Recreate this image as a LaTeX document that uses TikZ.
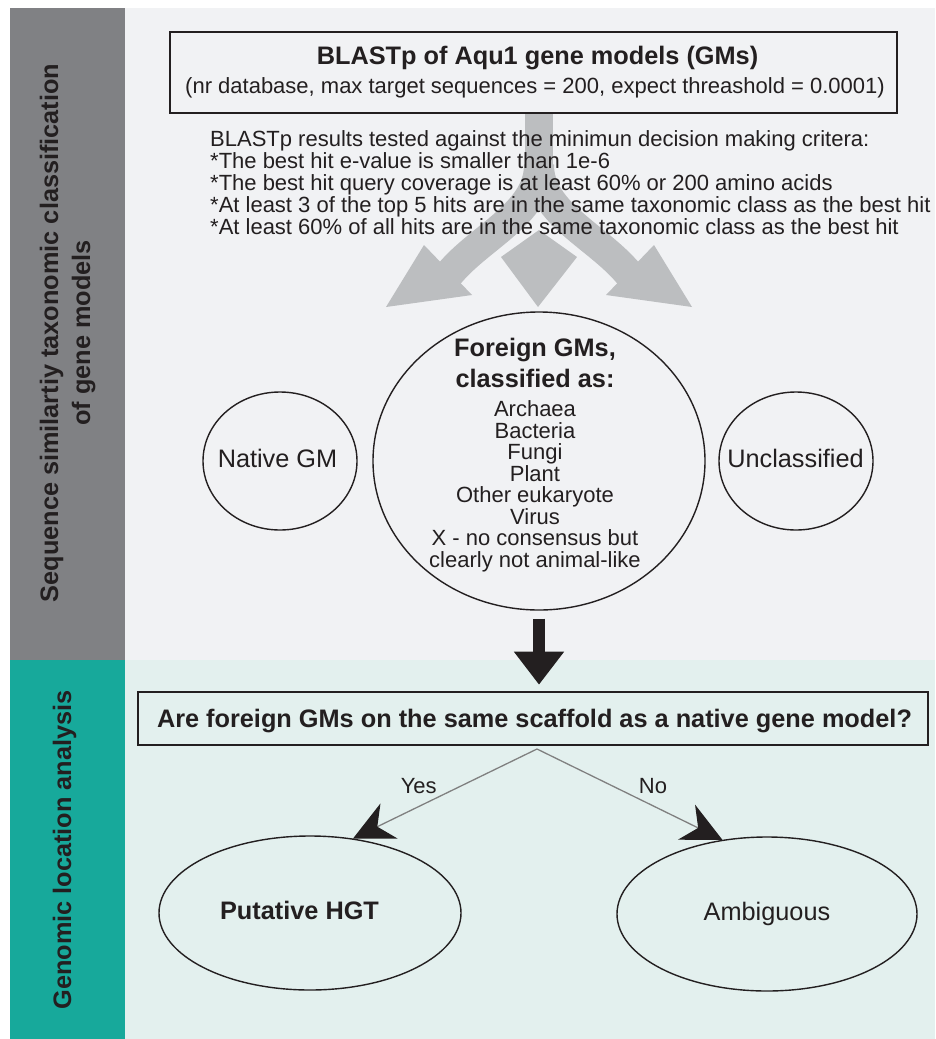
\documentclass[tikz,border=0pt]{standalone}
\usepackage{fontspec}
\setmainfont{Liberation Sans}
\usetikzlibrary{arrows.meta,shapes.geometric}
\definecolor{sidegray}{HTML}{808184}
\definecolor{panelgray}{HTML}{F1F2F4}
\definecolor{sideteal}{HTML}{17A99B}
\definecolor{panelteal}{HTML}{E3F0EE}
\definecolor{arrowgray}{HTML}{BCBEC0}
\definecolor{ink}{HTML}{231F20}
\definecolor{lgray}{HTML}{808080}
\begin{document}
\begin{tikzpicture}[x=1pt,y=-1pt,
  txt/.style={font=\fontsize{22}{22}\selectfont, text=ink, inner sep=0pt},
  boldtxt/.style={font=\fontsize{25.3}{30}\selectfont\bfseries, text=ink, inner sep=0pt},
  bigtxt/.style={font=\fontsize{25.3}{30}\selectfont, text=ink, inner sep=0pt},
  boxnode/.style={draw=ink, line width=1.6pt, inner sep=0pt},
  oval/.style={ellipse, draw=ink, line width=1.4pt, inner sep=0pt},
  gline/.style={draw=lgray, line width=1.3pt, -{Stealth[length=40pt,width=39pt,inset=13pt,color=ink]}},
  sidetxt/.style={font=\fontsize{25.3}{30}\selectfont\bfseries, text=ink, inner sep=0pt, rotate=90, anchor=base},
  blockarrow/.style={draw=ink, line width=11.3pt, -{Triangle[length=33pt,width=48pt]}},
  branch/.style={draw=arrowgray, line width=30pt}
]
\useasboundingbox (0,0) rectangle (935,1039);
% backgrounds
\fill[white] (0,0) rectangle (935,1039);
\fill[sidegray] (10,8) rectangle (125,660);
\fill[panelgray] (125,8) rectangle (935,660);
\fill[sideteal] (10,660) rectangle (125,1039);
\fill[panelteal] (125,660) rectangle (935,1039);

% side labels
\node[sidetxt] (s1) at (58,333) {Sequence similartiy taxonomic classification};
\node[sidetxt] (s2) at (90,333) {of gene models};
\node[sidetxt] (s3) at (71,850) {Genomic location analysis};

% gray branching arrow
\fill[arrowgray] (525,113) rectangle (553,185);
\draw[branch] (539,165) .. controls (539,215) and (476,238) .. (446,278);
\draw[branch] (539,165) .. controls (539,215) and (602,238) .. (632,278);
\fill[arrowgray] (424,245) -- (386,307) -- (472,295) -- cycle;
\fill[arrowgray] (654,245) -- (692,307) -- (606,295) -- cycle;
\fill[arrowgray] (539,230) -- (577,257) -- (538,307) -- (501,257) -- cycle;

% top box
\node[boxnode, minimum width=727pt, minimum height=81pt] (b1) at (533.5,72.5) {};
\node[boldtxt, anchor=base] (t1) at (537.5,64) {BLASTp of Aqu1 gene models (GMs)};
\node[txt, anchor=base] (t2) at (535,93) {(nr database, max target sequences = 200, expect threashold = 0.0001)};

% criteria
\node[txt, anchor=base west] (c1) at (210,146) {BLASTp results tested against the minimun decision making critera:};
\node[txt, anchor=base west] (c2) at (210,168) {*The best hit e-value is smaller than 1e-6};
\node[txt, anchor=base west] (c3) at (210,190) {*The best hit query coverage is at least 60\% or 200 amino acids};
\node[txt, anchor=base west] (c4) at (210,212) {*At least 3 of the top 5 hits are in the same taxonomic class as the best hit};
\node[txt, anchor=base west] (c5) at (210,234) {*At least 60\% of all hits are in the same taxonomic class as the best hit};

% classification ellipses
\node[oval, minimum width=154pt, minimum height=138pt] (nat) at (280,461) {};
\node[oval, minimum width=332pt, minimum height=298pt] (big) at (539,461) {};
\node[oval, minimum width=154pt, minimum height=138pt] (uncl) at (796,461) {};
\node[bigtxt, anchor=base] (natt) at (277.5,467) {Native GM};
\node[bigtxt, anchor=base] (unclt) at (795.5,467) {Unclassified};
\node[boldtxt, anchor=base] (fg1) at (535,356.5) {Foreign GMs,};
\node[boldtxt, anchor=base] (fg2) at (535,387) {classified as:};
\foreach \t [count=\i] in {Archaea,Bacteria,Fungi,Plant,Other eukaryote,Virus,X - no consensus but,clearly not animal-like}{
  \node[txt, anchor=base] (f\i) at (535,{416.5+21.57*(\i-1)}) {\t};
}

% question box
\node[boxnode, minimum width=790pt, minimum height=53pt] (q) at (533,718.5) {};
\node[boldtxt, anchor=base] (qt) at (534.5,727) {Are foreign GMs on the same scaffold as a native gene model?};

% block arrow
\coordinate (atip) at (big.south |- q.north);
\draw[blockarrow] ([yshift=-8pt]big.south) -- ([yshift=6.5pt]atip);

% outcome ellipses
\node[oval, minimum width=302pt, minimum height=154pt] (hgt) at (310,913) {};
\node[oval, minimum width=300pt, minimum height=154pt] (amb) at (767,914) {};
\node[boldtxt, anchor=base] (hgtt) at (299.5,919) {Putative HGT};
\node[bigtxt, anchor=base] (ambt) at (767,920) {Ambiguous};

% decision lines
\coordinate (fork) at (537,749);
\draw[gline] (fork) -- (hgt.60);
\draw[gline] (fork) -- (amb.121);
\node[txt, anchor=base] (yes) at (418.7,793) {Yes};
\node[txt, anchor=base] (no) at (653,793) {No};
\end{tikzpicture}
\end{document}
